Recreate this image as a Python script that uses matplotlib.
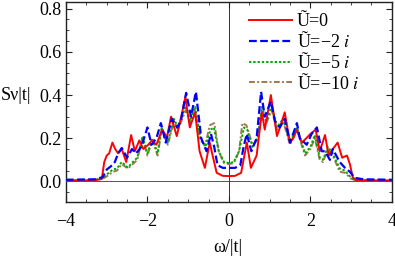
import matplotlib
matplotlib.use("Agg")
import matplotlib.pyplot as plt
from matplotlib.ticker import MultipleLocator

plt.rcParams['font.family'] = ['Liberation Serif', 'DejaVu Serif']
plt.rcParams['mathtext.fontset'] = 'stix'

labels = ["Ũ=0", "Ũ=−2 $i$", "Ũ=−5 $i$", "Ũ=−10 $i$"]

x_red = [-4, -3.3, -3.12, -3.06, -3.0, -2.94, -2.86, -2.79, -2.72, -2.63, -2.52, -2.40, -2.31, -2.2,
         -2.1, -1.98, -1.89, -1.78, -1.64, -1.52, -1.42, -1.28, -1.17, -1.07, -0.96, -0.83, -0.72,
         -0.59, -0.47, -0.4, -0.3, -0.15, 0, 0.15, 0.3, 0.38, 0.44, 0.54, 0.68, 0.81, 0.88, 1.03,
         1.18, 1.27, 1.37, 1.5, 1.58, 1.67, 1.79, 1.9, 2.0, 2.13, 2.23, 2.36, 2.45, 2.55, 2.67,
         2.78, 2.9, 2.97, 3.04, 3.12, 3.3, 4]
y_red = [0.003, 0.005, 0.012, 0.09, 0.12, 0.13, 0.18, 0.15, 0.13, 0.15, 0.09, 0.215, 0.14, 0.19,
         0.15, 0.17, 0.19, 0.17, 0.24, 0.205, 0.30, 0.21, 0.30, 0.39, 0.25, 0.32, 0.14,
         0.063, 0.18, 0.12, 0.04, 0.026, 0.025, 0.026, 0.04, 0.12, 0.18, 0.063, 0.12, 0.32, 0.24, 0.40,
         0.21, 0.26, 0.32, 0.18, 0.20, 0.24, 0.18, 0.20, 0.22, 0.24, 0.14, 0.215, 0.12, 0.15, 0.18,
         0.11, 0.12, 0.08, 0.02, 0.006, 0.004, 0.003]

x_blue = [-4, -3.3, -3.1, -3.0, -2.9, -2.8, -2.72, -2.63, -2.5, -2.38, -2.28, -2.15, -2.0, -1.9,
          -1.78, -1.67, -1.55, -1.4, -1.27, -1.18, -1.05, -0.93, -0.81, -0.68, -0.55, -0.44, -0.36,
          -0.28, -0.15, 0, 0.15, 0.28, 0.36, 0.44, 0.55, 0.68, 0.79, 0.88, 1.03, 1.13, 1.25, 1.37,
          1.5, 1.67, 1.74, 1.91, 2.03, 2.16, 2.28, 2.36, 2.48, 2.55, 2.72, 2.85, 2.97, 3.09, 3.3, 4]
y_blue = [0.008, 0.01, 0.02, 0.055, 0.07, 0.09, 0.13, 0.155, 0.11, 0.15, 0.13, 0.16, 0.25, 0.17,
          0.20, 0.27, 0.18, 0.29, 0.25, 0.28, 0.41, 0.30, 0.415, 0.20, 0.14, 0.22, 0.16,
          0.075, 0.063, 0.063, 0.063, 0.075, 0.16, 0.22, 0.14, 0.20, 0.415, 0.30, 0.37, 0.28, 0.25, 0.29,
          0.18, 0.27, 0.20, 0.17, 0.22, 0.25, 0.14, 0.14, 0.10, 0.15, 0.09, 0.063, 0.045, 0.017, 0.01, 0.008]

x_green = [-4, -3.3, -3.1, -2.95, -2.85, -2.75, -2.63, -2.48, -2.36, -2.25, -2.12, -2.0, -1.88,
           -1.75, -1.65, -1.5, -1.35, -1.25, -1.06, -0.95, -0.83, -0.7, -0.58, -0.45, -0.37, -0.25,
           -0.12, 0, 0.12, 0.25, 0.37, 0.45, 0.58, 0.7, 0.81, 0.92, 1.05, 1.18, 1.33, 1.5, 1.67,
           1.75, 1.87, 2.0, 2.11, 2.23, 2.31, 2.43, 2.55, 2.72, 2.85, 3.0, 3.1, 3.3, 4]
y_green = [0.005, 0.008, 0.015, 0.04, 0.055, 0.06, 0.09, 0.065, 0.09, 0.11, 0.21, 0.13, 0.20,
           0.13, 0.25, 0.18, 0.29, 0.25, 0.35, 0.28, 0.345, 0.20, 0.16, 0.24, 0.25, 0.14,
           0.09, 0.085, 0.09, 0.14, 0.25, 0.24, 0.16, 0.20, 0.345, 0.28, 0.35, 0.25, 0.29, 0.18, 0.25,
           0.20, 0.13, 0.16, 0.215, 0.11, 0.10, 0.16, 0.13, 0.06, 0.05, 0.017, 0.008, 0.006, 0.005]

x_brown = [-4, -3.3, -3.1, -2.95, -2.85, -2.75, -2.63, -2.48, -2.36, -2.25, -2.12, -2.0, -1.88,
           -1.75, -1.65, -1.5, -1.35, -1.25, -1.06, -0.95, -0.83, -0.7, -0.58, -0.47, -0.36, -0.25,
           -0.12, 0, 0.12, 0.25, 0.33, 0.43, 0.58, 0.7, 0.81, 0.92, 1.05, 1.18, 1.33, 1.5, 1.67,
           1.75, 1.87, 2.0, 2.11, 2.23, 2.31, 2.43, 2.55, 2.72, 2.85, 3.0, 3.1, 3.3, 4]
y_brown = [0.004, 0.006, 0.012, 0.03, 0.045, 0.05, 0.08, 0.06, 0.08, 0.10, 0.20, 0.12, 0.19,
           0.12, 0.24, 0.17, 0.28, 0.24, 0.33, 0.27, 0.33, 0.19, 0.17, 0.26, 0.27, 0.14,
           0.085, 0.08, 0.085, 0.14, 0.27, 0.26, 0.17, 0.19, 0.33, 0.27, 0.33, 0.24, 0.28, 0.17, 0.24,
           0.19, 0.12, 0.15, 0.20, 0.10, 0.09, 0.15, 0.12, 0.045, 0.04, 0.013, 0.006, 0.005, 0.004]

fig = plt.figure(figsize=(3.95, 2.59), dpi=100)
ax = fig.add_axes([0.167, 0.22, 0.825, 0.772])

ax.axhline(0, color='#555555', lw=0.7, zorder=1)
ax.axvline(0, color='#333333', lw=0.7, zorder=1)

ax.plot(x_red, y_red, color='#ff0000', lw=1.4, ls='-', label=labels[0], zorder=5)
ax.plot(x_blue, y_blue, color='#0000ff', lw=1.6, ls=(0, (3.5, 1.5)), label=labels[1], zorder=6)
ax.plot(x_green, y_green, color='#00aa00', lw=1.4, ls=(0, (1.2, 1.0)), label=labels[2], zorder=4)
ax.plot(x_brown, y_brown, color='#a0784e', lw=1.4, ls=(0, (3, 1.2, 1, 1.2)), label=labels[3], zorder=3)

ax.set_xlim(-4, 4)
ax.set_ylim(-0.095, 0.83)
ax.xaxis.set_minor_locator(MultipleLocator(0.5))
ax.yaxis.set_minor_locator(MultipleLocator(0.05))
ax.set_xticks([-4, -2, 0, 2, 4])
ax.set_xticklabels(['−4', '−2', '0', '2', '4'])
ax.set_yticks([0.0, 0.2, 0.4, 0.6, 0.8])
ax.set_yticklabels(['0.0', '0.2', '0.4', '0.6', '0.8'])
ax.tick_params(which='both', direction='in', top=True, right=True, labelsize=13, color='#222222')
ax.tick_params(which='major', length=4, width=0.8)
ax.tick_params(which='minor', length=2.5, width=0.6)
ax.tick_params(axis='x', which='major', pad=8)
ax.tick_params(axis='y', which='major', pad=3)
for s in ax.spines.values():
    s.set_linewidth(1.0)
    s.set_color('#222222')

fig.text(0.003, 0.633, 'Sν|t|', fontsize=13, va='center', ha='left')
fig.text(0.577, 0.046, 'ω/|t|', fontsize=13, va='center', ha='center')

ax.legend(loc='upper left', bbox_to_anchor=(0.562, 0.945), frameon=False, fontsize=13,
          handlelength=2.35, handletextpad=0.3, labelspacing=0.05, borderaxespad=0.0,
          borderpad=0.0)

fig.savefig('out.png', dpi=100)
